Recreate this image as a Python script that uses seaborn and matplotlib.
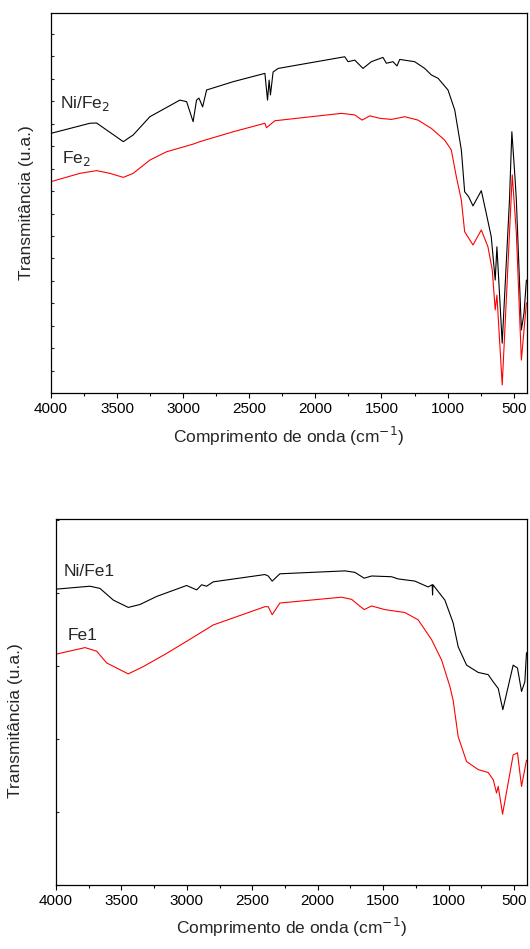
import matplotlib
matplotlib.use("Agg")
import matplotlib.pyplot as plt
import seaborn as sns
from matplotlib.ticker import MultipleLocator

# FTIR spectra, values (wavenumber cm-1, transmittance a.u.)

# top panel: Ni/Fe2 (black) and Fe2 (red)
wn_nife2 = [4000, 3705, 3655, 3453, 3378, 3252, 3025, 2974, 2925, 2899, 2881, 2853, 2823,
            2622, 2382, 2362, 2350, 2340, 2320, 2282, 1778, 1753, 1702, 1640, 1577, 1489,
            1463, 1413, 1383, 1362, 1249, 1173, 1123, 1072, 997, 946, 896, 871, 841, 808,
            745, 708, 670, 640, 627, 587, 532, 514, 489, 480, 442, 422, 404]
t_nife2 = [11.57, 12.02, 12.03, 11.20, 11.50, 12.31, 13.05, 12.98, 12.09, 13.05, 13.14,
           12.75, 13.50, 13.87, 14.24, 13.05, 13.94, 13.28, 14.30, 14.46, 14.98, 14.76,
           14.83, 14.46, 14.76, 14.95, 14.69, 14.76, 14.57, 14.86, 14.76, 14.46, 14.17,
           14.02, 13.50, 12.61, 10.83, 8.97, 8.75, 8.34, 9.02, 8.02, 6.97, 5.04, 6.52,
           2.23, 8.60, 11.64, 9.49, 8.60, 2.82, 3.57, 5.04]

wn_fe2 = [4000, 3781, 3655, 3554, 3453, 3378, 3252, 3126, 2925, 2874, 2622, 2382, 2370,
          2307, 1803, 1702, 1647, 1588, 1513, 1425, 1324, 1224, 1123, 1022, 972, 934, 896,
          871, 808, 745, 695, 662, 640, 627, 587, 544, 511, 480, 442, 404]
t_fe2 = [9.42, 9.79, 9.91, 9.79, 9.61, 9.79, 10.38, 10.75, 11.09, 11.20, 11.64, 12.02,
         11.82, 12.13, 12.46, 12.39, 12.16, 12.35, 12.24, 12.19, 12.31, 12.16, 11.79, 11.27,
         10.83, 9.64, 8.60, 7.19, 6.60, 7.27, 6.52, 5.48, 3.71, 4.37, 0.37, 5.63, 9.72,
         7.13, 1.48, 4.02]

# bottom panel: Ni/Fe1 (black) and Fe1 (red)
wn_nife1 = [4000, 3740, 3664, 3562, 3448, 3358, 3231, 3002, 2925, 2887, 2849, 2798, 2403,
            2378, 2348, 2289, 1792, 1716, 1645, 1588, 1436, 1385, 1257, 1156, 1125, 1122,
            1119, 1028, 965, 926, 862, 773, 697, 658, 620, 585, 506, 473, 442, 417, 404]
t_nife1 = [4.05, 4.09, 4.06, 3.90, 3.80, 3.84, 3.95, 4.10, 4.04, 4.11, 4.09, 4.15, 4.25,
           4.23, 4.16, 4.26, 4.30, 4.28, 4.20, 4.23, 4.22, 4.19, 4.16, 4.08, 4.11, 3.97,
           4.11, 3.90, 3.59, 3.26, 3.01, 2.91, 2.88, 2.78, 2.69, 2.40, 3.01, 2.97, 2.65,
           2.78, 3.18]

wn_fe1 = [4000, 3778, 3689, 3613, 3448, 3333, 3155, 2925, 2798, 2403, 2378, 2348, 2289,
          1817, 1741, 1645, 1588, 1487, 1334, 1232, 1130, 1053, 990, 965, 926, 862, 773,
          697, 658, 633, 620, 587, 506, 473, 442, 404]
t_fe1 = [3.16, 3.25, 3.20, 3.04, 2.89, 2.99, 3.17, 3.42, 3.56, 3.81, 3.81, 3.70, 3.86,
         3.94, 3.91, 3.77, 3.82, 3.77, 3.73, 3.63, 3.36, 3.08, 2.72, 2.53, 2.03, 1.69, 1.58,
         1.54, 1.44, 1.26, 1.35, 0.97, 1.78, 1.81, 1.35, 1.71]

sns.set_style("ticks")
plt.rcParams['font.family'] = ['Liberation Sans', 'DejaVu Sans']

fig = plt.figure(figsize=(5.30, 9.49), dpi=100)
ax1 = fig.add_axes([0.0962, 0.5856, 0.898, 0.401])
ax2 = fig.add_axes([0.1057, 0.0674, 0.8887, 0.3857])

xlabel = 'Comprimento de onda (cm$^{-1}$)'
ylabel = 'Transmitância (u.a.)'


def style(ax, ytop):
    ax.set_xlim(4000, 400)
    ax.set_ylim(0, ytop)
    ax.xaxis.set_major_locator(MultipleLocator(500))
    ax.xaxis.set_minor_locator(MultipleLocator(250))
    ax.yaxis.set_major_locator(MultipleLocator(1))
    ax.tick_params(axis='x', which='both', direction='out', labelsize=11, width=0.8,
                   pad=3, colors='black')
    ax.tick_params(axis='x', which='major', length=3.5)
    ax.tick_params(axis='x', which='minor', length=2.5)
    ax.tick_params(axis='y', which='both', direction='in', length=2.5, width=0.8,
                   labelleft=False)
    for sp in ax.spines.values():
        sp.set_linewidth(0.9)
        sp.set_color('black')
    ax.set_xlabel(xlabel, fontsize=12.5, labelpad=6)
    ax.set_ylabel(ylabel, fontsize=12.5, labelpad=12)


# top panel
sns.lineplot(x=wn_nife2, y=t_nife2, sort=False, color='black', lw=0.8, ax=ax1)
sns.lineplot(x=wn_fe2, y=t_fe2, sort=False, color='red', lw=0.8, ax=ax1)
style(ax1, 16.94)
ax1.text(3935, 12.92, 'Ni/Fe$_2$', fontsize=12.5, va='center', ha='left')
ax1.text(3918, 10.47, 'Fe$_2$', fontsize=12.5, va='center', ha='left')

# bottom panel
sns.lineplot(x=wn_nife1, y=t_nife1, sort=False, color='black', lw=0.8, ax=ax2)
sns.lineplot(x=wn_fe1, y=t_fe1, sort=False, color='red', lw=0.8, ax=ax2)
style(ax2, 5.01)
ax2.yaxis.set_label_coords(-0.07, 0.448)
ax2.text(3945, 4.29, 'Ni/Fe1', fontsize=12.5, va='center', ha='left')
ax2.text(3908, 3.42, 'Fe1', fontsize=12.5, va='center', ha='left')

fig.savefig('out.png', dpi=100)
